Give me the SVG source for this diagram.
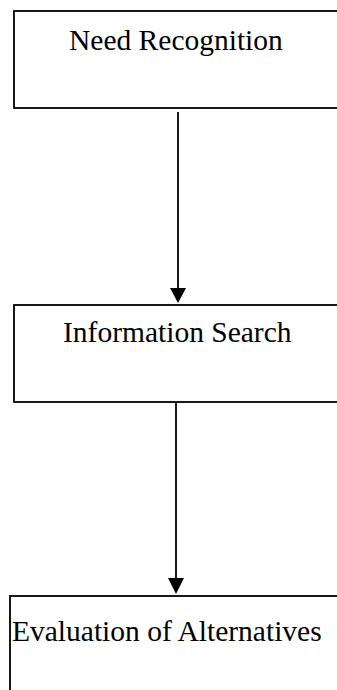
<svg xmlns="http://www.w3.org/2000/svg" width="337" height="690" viewBox="0 0 337 690">
<style>
.box{fill:#fff;stroke:#000;stroke-width:1.8}
.lbl{font-family:"Liberation Serif","Times New Roman",serif;font-size:29.5px;fill:#000}
.conn{stroke:#000;stroke-width:1.8;fill:none}
</style>
<defs>
<marker id="ah" markerWidth="10" markerHeight="9" refX="9" refY="4.5" orient="auto" markerUnits="userSpaceOnUse">
<path d="M0,0 L9,4.5 L0,9 Z" fill="#000"/>
</marker>
</defs>
<rect width="337" height="690" fill="#fff"/>
<g id="need-recognition">
<rect class="box" x="14" y="11" width="340" height="97"/>
<text class="lbl" x="69" y="50">Need Recognition</text>
</g>
<g id="information-search">
<rect class="box" x="14" y="305" width="340" height="97"/>
<text class="lbl" x="63" y="342">Information Search</text>
</g>
<g id="evaluation-of-alternatives">
<rect class="box" x="10" y="596" width="340" height="110"/>
<text class="lbl" x="12" y="641">Evaluation of Alternatives</text>
</g>
<g id="connectors">
<line class="conn" x1="178" y1="112" x2="178" y2="288"/>
<path d="M170,288 L186,288 L178,303 Z" fill="#000"/>
<line class="conn" x1="176" y1="402" x2="176" y2="578"/>
<path d="M168,578 L184,578 L176,594 Z" fill="#000"/>
</g>
</svg>
